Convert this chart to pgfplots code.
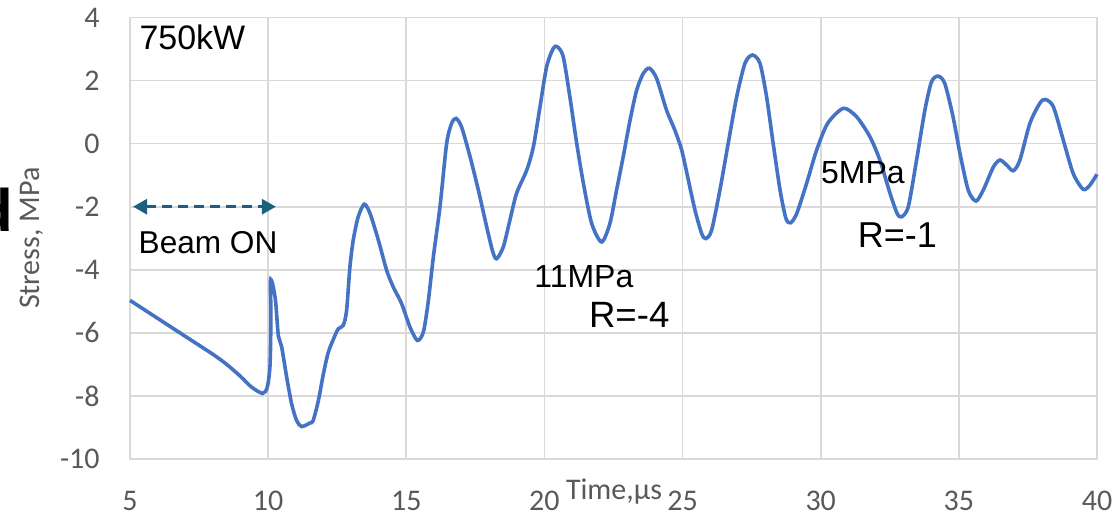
\documentclass[border=0pt]{standalone}
\usepackage{fontspec}
\setmainfont{Liberation Sans}
\newfontfamily\carlito{Carlito}
\usepackage{pgfplots}
\pgfplotsset{compat=1.18}
\usetikzlibrary{arrows.meta}
\definecolor{gridgray}{HTML}{D9D9D9}
\definecolor{tickgray}{HTML}{595959}
\definecolor{curveblue}{HTML}{4472C4}
\definecolor{arrowteal}{HTML}{1D5F7E}
\begin{document}
\begin{tikzpicture}
\begin{axis}[
  scale only axis,
  width=483.5pt, height=220.75pt,
  xmin=5, xmax=40, ymin=-10, ymax=4,
  xtick={5,10,...,40}, ytick={-10,-8,...,4},
  grid=major,
  major grid style={draw=gridgray, line width=0.8pt},
  axis line style={draw=gridgray, line width=0.8pt},
  major tick length=0pt,
  /pgf/number format/assume math mode=true,
  ticklabel style={font=\carlito\fontsize{15}{15}\selectfont, text=tickgray, inner sep=0pt},
  xticklabel style={anchor=center, yshift=-21pt},
  yticklabel style={anchor=east, xshift=-15pt},
  clip=false,
]
\addplot[curveblue, line width=1.8pt, smooth, tension=0.45] coordinates {
(5.0,-4.97) (6.0,-5.54) (7.0,-6.11) (8.0,-6.68) (8.5,-7.00) (9.0,-7.38) (9.4,-7.72)
(9.8,-7.92) (9.97,-7.72) (10.07,-7.0) (10.10,-5.4) (10.08,-4.35) (10.16,-4.45)
(10.27,-5.0) (10.37,-6.1) (10.49,-6.45) (10.67,-7.4) (10.85,-8.25) (11.03,-8.78)
(11.21,-8.97) (11.51,-8.86) (11.63,-8.78) (11.82,-8.14) (12.0,-7.3) (12.18,-6.61)
(12.42,-6.08) (12.54,-5.87) (12.72,-5.76) (12.84,-5.29) (12.96,-3.91) (13.08,-3.06)
(13.26,-2.32) (13.48,-1.92) (13.69,-2.22) (13.99,-3.06) (14.29,-4.02) (14.53,-4.55)
(14.83,-5.07) (15.13,-5.81) (15.40,-6.24) (15.62,-5.97) (15.8,-4.97) (15.98,-3.59)
(16.22,-2.0) (16.46,0.0) (16.64,0.64) (16.8,0.8) (17.0,0.53)
(17.31,-0.42) (17.61,-1.48) (17.91,-2.64) (18.13,-3.43) (18.27,-3.65) (18.51,-3.28)
(18.75,-2.43) (18.99,-1.58) (19.36,-0.84) (19.6,-0.1) (19.84,1.17) (20.08,2.44)
(20.32,3.02) (20.47,3.07) (20.68,2.76) (20.92,1.49) (21.17,0.0) (21.41,-1.26)
(21.71,-2.53) (22.07,-3.12) (22.37,-2.53) (22.61,-1.48) (22.85,-0.42) (23.1,0.75)
(23.34,1.7) (23.58,2.23) (23.8,2.39) (24.06,2.07) (24.42,1.06) (24.72,0.43)
(24.97,-0.21) (25.21,-1.16) (25.45,-2.11) (25.69,-2.85) (25.84,-3.01) (26.05,-2.75)
(26.35,-1.48) (26.65,0.0) (26.96,1.49) (27.26,2.55) (27.53,2.81) (27.8,2.55)
(28.04,1.49) (28.28,0.0) (28.53,-1.48) (28.74,-2.37) (28.91,-2.51) (29.13,-2.22)
(29.49,-1.26) (29.85,-0.21) (30.25,0.64) (30.82,1.12) (31.3,0.85) (31.78,0.22)
(32.14,-0.52) (32.51,-1.58) (32.77,-2.22) (32.93,-2.32) (33.17,-2.0) (33.47,-0.52)
(33.77,1.06) (34.01,1.96) (34.25,2.14) (34.49,1.91) (34.79,0.85) (35.04,-0.31)
(35.34,-1.48) (35.62,-1.82) (35.88,-1.48) (36.25,-0.74) (36.49,-0.52) (36.73,-0.68)
(36.97,-0.86) (37.21,-0.52) (37.57,0.64) (37.93,1.28) (38.13,1.4) (38.42,1.17)
(38.78,0.11) (39.14,-0.95) (39.5,-1.45) (39.74,-1.32) (40.0,-0.97)
};
\draw[arrowteal, line width=1.5pt, dash pattern=on 5pt off 3pt,
  {Triangle[length=7pt,width=7.5pt]}-{Triangle[length=7pt,width=7.5pt]}]
  (axis cs:5.11,-2.0) -- (axis cs:10.28,-2.0);
\node[anchor=base west, inner sep=0pt, font=\fontsize{17}{17}\selectfont] at (axis cs:5.33,2.97) {750kW};
\node[anchor=base west, inner sep=0pt, font=\fontsize{15.8}{15.8}\selectfont] at (axis cs:5.30,-3.48) {Beam ON};
\node[anchor=base west, inner sep=0pt, font=\fontsize{16}{16}\selectfont] at (axis cs:19.62,-4.55) {11MPa};
\node[anchor=base west, inner sep=0pt, font=\fontsize{18.3}{18.3}\selectfont] at (axis cs:21.6,-5.83) {R=-4};
\node[anchor=base west, inner sep=0pt, font=\fontsize{16}{16}\selectfont] at (axis cs:30.0,-1.25) {5MPa};
\node[anchor=base west, inner sep=0pt, font=\fontsize{18}{18}\selectfont] at (axis cs:31.33,-3.28) {R=-1};
\node[anchor=base, inner sep=0pt, font=\carlito\fontsize{15}{15}\selectfont, text=tickgray] at (axis cs:22.52,-10) [yshift=-20.5pt] {Time,µs};
\coordinate (ll) at (rel axis cs:0,0);
\coordinate (ur) at (rel axis cs:1,1);
\coordinate (ylab) at (rel axis cs:0,0.5);
\end{axis}
\node[rotate=90, inner sep=0pt, font=\carlito\fontsize{15}{15}\selectfont, text=tickgray] at ([xshift=-49pt]ylab) {Stress, MPa};
\node[anchor=base east, inner sep=0pt, font=\bfseries\fontsize{30}{30}\selectfont] at ([xshift=-58pt, yshift=113.5pt]ll) {d};
\pgfresetboundingbox
\path[use as bounding box] ([shift={(-65pt,-29pt)}]ll) rectangle ([shift={(11.5pt,8.75pt)}]ur);
\end{tikzpicture}
\end{document}
